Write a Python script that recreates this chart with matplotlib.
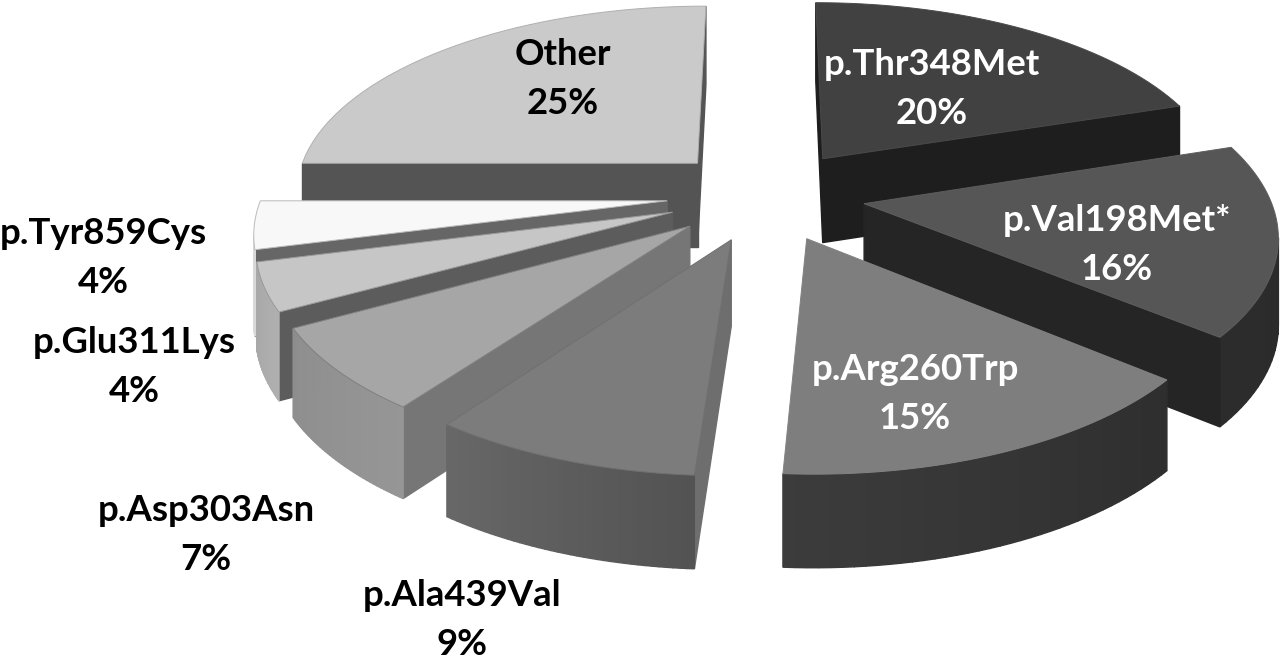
import numpy as np
import matplotlib
matplotlib.use("Agg")
import matplotlib.pyplot as plt
from matplotlib.colors import to_rgb

# Daten in Reihenfolge im Uhrzeigersinn ab 12 Uhr
names = ["p.Thr348Met", "p.Val198Met*", "p.Arg260Trp", "p.Ala439Val",
         "p.Asp303Asn", "p.Glu311Lys", "p.Tyr859Cys", "Other"]
values = [20, 16, 15, 9, 7, 4, 4, 25]

# Farben: Oberseite, Schnittflaeche, Rand (Anfang, Ende)
top_colors = ["#414141", "#565656", "#7e7e7e", "#7c7c7c", "#a6a6a6", "#c6c6c6", "#f8f8f8", "#cacaca"]
cut_colors = ["#1e1e1e", "#252525", "#2a2a2a", "#6e6e6e", "#767676", "#5c5c5c", "#666666", "#545454"]
rim_from = ["#1e1e1e", "#2a2a2a", "#2e2e2e", "#525252", "#969696", "#b0b0b0", "#dddddd", "#545454"]
rim_to = ["#1e1e1e", "#2c2c2c", "#3c3c3c", "#686868", "#8e8e8e", "#a8a8a8", "#cccccc", "#545454"]
edge_colors = ["#4a4a4a", "#5e5e5e", "#828282", "#707070", "#808080", "#999999", "#bbbbbb", "#b0b0b0"]
text_colors = ["white", "white", "white", "black", "black", "black", "black", "black"]

# Label-Positionen in Pixeln
label_x = [932, 1117, 915, 462, 206, 134, 103, 563]
label_y = [89, 245, 394, 620, 535, 367, 258, 79]

# Zeichenreihenfolge: hinten nach vorne
draw_order = [7, 0, 6, 5, 1, 4, 2, 3]

# Parameter der Perspektive
cx, cy = 766, 195
Rx, Ry = 405, 188
persp = 0.143
explode = 0.245
depth = 85


def project(x, y, low=False):
    s = 1 / (1 + persp * y)
    px = cx + Rx * x * s
    py = cy - Ry * y * s
    if low:
        py = py + depth * np.sqrt(s)
    return px, py


def area(pts):
    pts = np.array(pts)
    x, y = pts[:, 0], pts[:, 1]
    return 0.5 * np.sum(x * np.roll(y, -1) - np.roll(x, -1) * y)


fig = plt.figure(figsize=(12.8, 6.59), dpi=100)
ax = fig.add_axes([0, 0, 1, 1])
ax.set_xlim(0, 1280)
ax.set_ylim(659, 0)
ax.axis("off")

fractions = np.array(values) / sum(values)
starts = np.concatenate([[0], np.cumsum(fractions)[:-1]]) * 2 * np.pi
ends = np.cumsum(fractions) * 2 * np.pi

for i in draw_order:
    mid = (starts[i] + ends[i]) / 2
    ox = explode * np.sin(mid)
    oy = explode * np.cos(mid)
    angles = np.linspace(starts[i], ends[i], 40)
    xs = np.concatenate([[ox], ox + np.sin(angles)])
    ys = np.concatenate([[oy], oy + np.cos(angles)])
    top = [project(x, y) for x, y in zip(xs, ys)]
    low = [project(x, y, True) for x, y in zip(xs, ys)]
    top_area = area(top)

    # Schnittflaechen und Rand, nur die sichtbaren Seiten
    n = len(top)
    c0 = np.array(to_rgb(rim_from[i]))
    c1 = np.array(to_rgb(rim_to[i]))
    for k in range(n):
        j = (k + 1) % n
        quad = [top[k], top[j], low[j], low[k]]
        if area(quad) * top_area > 0:
            continue
        if k == 0 or k == n - 1:
            col = cut_colors[i]
        else:
            col = tuple(c0 + (c1 - c0) * k / (n - 1))
        q = np.array(quad)
        ax.fill(q[:, 0], q[:, 1], color=col, lw=1.0, zorder=1)

    t = np.array(top)
    ax.fill(t[:, 0], t[:, 1], facecolor=top_colors[i], edgecolor=edge_colors[i], lw=0.7, zorder=1)

for i in range(len(names)):
    ax.text(label_x[i], label_y[i], f"{names[i]}\n{values[i]}%", color=text_colors[i],
            fontsize=26.3, fontweight="bold", ha="center", va="center", linespacing=1.6,
            family=["Lato", "DejaVu Sans"], zorder=3)

fig.savefig("out.png", dpi=100, facecolor="white")
